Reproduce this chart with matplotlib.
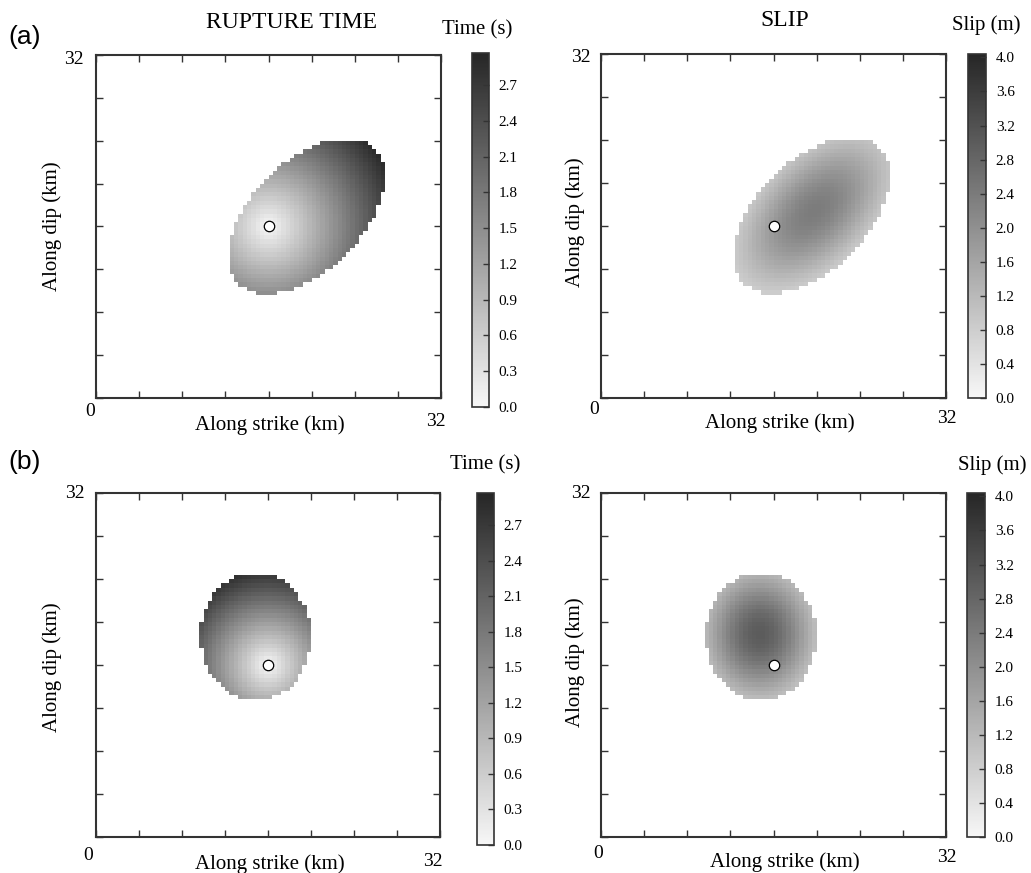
import numpy as np
import matplotlib
matplotlib.use("Agg")
import matplotlib.pyplot as plt
from matplotlib.colors import LinearSegmentedColormap

W, H = 1031, 873
SERIF = "Liberation Serif"

# fault plane, km
fault_len = 32.0
cell = 0.4
hypo = [16.0, 16.0]

# rupture ellipses: centre x, centre y, semi-axis along, semi-axis across, angle (deg)
ellipse_a = [19.54, 16.95, 8.9, 5.1, 45.0]
ellipse_b = [14.85, 18.65, 5.15, 5.95, 0.0]

# rupture velocity (km/s)
vr_a = 4.2
vr_b = 3.1

# slip: peak x, peak y, peak value (m), value at edge (m)
slip_a = [19.8, 17.4, 2.38, 0.92]
slip_b = [14.7, 18.9, 3.0, 1.18]

time_ticks = [0.0, 0.3, 0.6, 0.9, 1.2, 1.5, 1.8, 2.1, 2.4, 2.7]
slip_ticks = [0.0, 0.4, 0.8, 1.2, 1.6, 2.0, 2.4, 2.8, 3.2, 3.6, 4.0]
time_max = 2.97
slip_max = 4.04

cmap = LinearSegmentedColormap.from_list("grey_r", ["#f7f7f7", "#262626"])
cmap.set_bad("white")


def grid():
    edges = np.arange(0, fault_len + cell / 2, cell)
    centres = edges[:-1] + cell / 2
    X, Y = np.meshgrid(centres, centres)
    return edges, X, Y


def ellipse_r(X, Y, ell, cx=None, cy=None):
    x0, y0, a, b, ang = ell
    if cx is not None:
        x0, y0 = cx, cy
    t = np.deg2rad(ang)
    u = (X - x0) * np.cos(t) + (Y - y0) * np.sin(t)
    v = -(X - x0) * np.sin(t) + (Y - y0) * np.cos(t)
    return np.sqrt((u / a) ** 2 + (v / b) ** 2)


def rupture_time(X, Y, ell, vr):
    t = np.hypot(X - hypo[0], Y - hypo[1]) / vr
    return np.ma.masked_where(ellipse_r(X, Y, ell) > 1, t)


def slip(X, Y, ell, sp):
    px, py, peak, edge = sp
    d = ellipse_r(X, Y, ell, px, py)
    s = peak * np.exp(-np.log(peak / edge) * d ** 2)
    return np.ma.masked_where(ellipse_r(X, Y, ell) > 1, s)


def rect(x0, y0, x1, y1):
    return [x0 / W, 1 - y1 / H, (x1 - x0) / W, (y1 - y0) / H]


def ftext(fig, x, y, s, **kw):
    kw.setdefault("family", SERIF)
    kw.setdefault("ha", "center")
    kw.setdefault("va", "center")
    fig.text(x / W, 1 - y / H, s, **kw)


def panel(fig, box, cbox, field, vmax, ticks, labels):
    ax = fig.add_axes(rect(*box))
    edges, _, _ = grid()
    im = ax.pcolormesh(edges, edges, field, cmap=cmap, vmin=0, vmax=vmax,
                       shading="flat", rasterized=True)
    ax.plot(hypo[0], hypo[1], "o", ms=7.5, mfc="white", mec="black", mew=0.9)
    ax.set_xlim(0, fault_len)
    ax.set_ylim(0, fault_len)
    ax.set_xticks(np.arange(0, 33, 4))
    ax.set_yticks(np.arange(0, 33, 4))
    ax.tick_params(direction="in", length=5, width=1, color="#333333",
                   top=True, right=True, labelbottom=False, labelleft=False)
    for sp in ax.spines.values():
        sp.set_linewidth(1.5)
        sp.set_color("#333333")

    cax = fig.add_axes(rect(*cbox))
    cb = fig.colorbar(im, cax=cax, ticks=ticks)
    cb.ax.set_yticklabels([f"{t:.1f}" for t in ticks], family=SERIF, fontsize=11)
    cb.ax.tick_params(direction="in", length=4, width=1, color="#333333", pad=7)
    cb.outline.set_linewidth(1.2)
    cb.outline.set_edgecolor("#333333")

    for x, y, s in labels:
        ftext(fig, x, y, s, fontsize=14)


def main():
    _, X, Y = grid()
    fig = plt.figure(figsize=(W / 100, H / 100), dpi=100)

    panel(fig, (96, 55, 441, 398), (472, 53, 489, 407),
          rupture_time(X, Y, ellipse_a, vr_a), time_max, time_ticks,
          [(74, 59, "32"), (90, 411, "0"), (436, 421, "32")])
    panel(fig, (601, 54, 946, 398), (968, 54, 986, 398),
          slip(X, Y, ellipse_a, slip_a), slip_max, slip_ticks,
          [(581, 58, "32"), (594, 410, "0"), (947, 418, "32")])
    panel(fig, (96, 493, 440, 837), (477, 493, 494, 845),
          rupture_time(X, Y, ellipse_b, vr_b), time_max, time_ticks,
          [(75, 493, "32"), (88, 855, "0"), (433, 862, "32")])
    panel(fig, (601, 493, 946, 837), (967, 493, 985, 837),
          slip(X, Y, ellipse_b, slip_b), slip_max, slip_ticks,
          [(581, 494, "32"), (598, 853, "0"), (947, 857, "32")])

    ftext(fig, 292, 22, "RUPTURE TIME", fontsize=17)
    ftext(fig, 785, 20, "SLIP", fontsize=17)
    ftext(fig, 477, 30, "Time (s)", fontsize=15)
    ftext(fig, 485, 465, "Time (s)", fontsize=15)
    ftext(fig, 986, 25, "Slip (m)", fontsize=15)
    ftext(fig, 992, 465, "Slip (m)", fontsize=15)
    ftext(fig, 25, 37, "(a)", fontsize=19, family="Liberation Sans")
    ftext(fig, 25, 462, "(b)", fontsize=19, family="Liberation Sans")

    for x, y in [(270, 425), (780, 423), (270, 864), (785, 862)]:
        ftext(fig, x, y, "Along strike (km)", fontsize=15)
    for x, y in [(52, 226), (575, 222), (52, 667), (575, 662)]:
        ftext(fig, x, y, "Along dip (km)", fontsize=15, rotation=90)

    fig.savefig("out.png", dpi=100)


if __name__ == "__main__":
    main()
